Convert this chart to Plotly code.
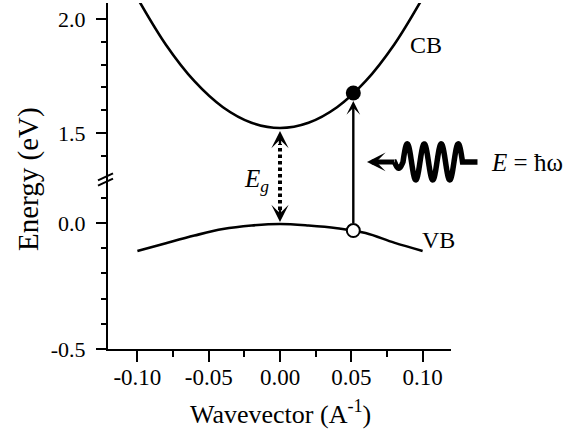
import numpy as np
import plotly.graph_objects as go

# ---------------- data ----------------
k_cb = [-0.10, -0.08, -0.06, -0.04, -0.02, 0.00, 0.02, 0.04, 0.06, 0.08, 0.10]
E_cb = [2.092, 1.887, 1.727, 1.613, 1.545, 1.522, 1.545, 1.613, 1.727, 1.887, 2.092]

k_vb = [-0.10, -0.08, -0.06, -0.04, -0.02, 0.00, 0.02, 0.04, 0.06, 0.08, 0.10]
E_vb = [-0.111, -0.080, -0.050, -0.024, -0.010, -0.004, -0.010, -0.021, -0.040, -0.078, -0.111]

k_transition = 0.0514     # vertical optical transition
E_excited = 1.675         # electron in CB (filled dot)
E_hole = -0.030           # hole in VB (open circle)
k_gap = 0.0
E_cb_min = 1.522
E_vb_max = -0.004

# photon squiggle (position on the upper energy axis)
k_photon_head = 0.061
E_photon = 1.373

x_ticks = [-0.10, -0.05, 0.00, 0.05, 0.10]
x_ticktext = ["-0.10", "-0.05", "0.00", "0.05", "0.10"]
x_minor = [-0.075, -0.025, 0.025, 0.075]
y_up_ticks = [1.5, 2.0]
y_up_text = ["1.5", "2.0"]
y_up_minor = [1.4, 1.6, 1.7, 1.8, 1.9]
y_lo_ticks = [-0.5, 0.0]
y_lo_text = ["-0.5", "0.0"]
y_lo_minor = [-0.4, -0.3, -0.2, -0.1, 0.1]

# ---------------- layout geometry ----------------
W, H = 568, 430
ML, MR, MT, MB = 108, 117, 3, 81
PW, PH = W - ML - MR, H - MT - MB
XR = [-0.1206, 0.1199]
Y_LO_DOM, Y_LO_RANGE = [0.0, 0.49], [-0.5, 0.1726]
Y_UP_DOM, Y_UP_RANGE = [0.49, 1.0], [1.296, 2.07]
FONT = "Liberation Serif"


def xp(k):
    return (k - XR[0]) / (XR[1] - XR[0])


def yp_up(E):
    return Y_UP_DOM[0] + (E - Y_UP_RANGE[0]) / (Y_UP_RANGE[1] - Y_UP_RANGE[0]) * (Y_UP_DOM[1] - Y_UP_DOM[0])


def yp_lo(E):
    return Y_LO_DOM[0] + (E - Y_LO_RANGE[0]) / (Y_LO_RANGE[1] - Y_LO_RANGE[0]) * (Y_LO_DOM[1] - Y_LO_DOM[0])


def ypx(py):
    """page pixel row -> paper fraction"""
    return (MT + PH - py) / PH


fig = go.Figure()

fig.add_trace(go.Scatter(x=k_cb, y=E_cb, mode="lines", xaxis="x", yaxis="y2",
                         line=dict(color="black", width=2.6, shape="spline"), hoverinfo="skip"))
fig.add_trace(go.Scatter(x=k_vb, y=E_vb, mode="lines", xaxis="x", yaxis="y",
                         line=dict(color="black", width=2.6, shape="spline"), hoverinfo="skip"))

shapes = []
annotations = []

# dotted band-gap double arrow
shapes.append(dict(type="line", xref="paper", yref="paper",
                   x0=xp(k_gap), x1=xp(k_gap),
                   y0=yp_lo(E_vb_max) + 14 / PH, y1=yp_up(E_cb_min) - 16 / PH,
                   line=dict(color="black", width=4, dash="3.5px,3px")))
annotations.append(dict(x=k_gap, xref="x", y=yp_up(E_cb_min) - 3 / PH, yref="paper", text="",
                        showarrow=True, arrowhead=3, arrowsize=1.2, arrowwidth=2.4,
                        arrowcolor="black", ax=0, ay=15))
annotations.append(dict(x=k_gap, xref="x", y=yp_lo(E_vb_max) + 2 / PH, yref="paper", text="",
                        showarrow=True, arrowhead=3, arrowsize=1.2, arrowwidth=2.4,
                        arrowcolor="black", ax=0, ay=-15))

# vertical excitation arrow
head_y = yp_up(E_excited) - 8 / PH
tail_y = yp_lo(E_hole) + 6 / PH
annotations.append(dict(x=k_transition, xref="x", y=head_y, yref="paper", text="",
                        showarrow=True, arrowhead=3, arrowsize=0.95, arrowwidth=2.4,
                        arrowcolor="black", ax=0, ay=(head_y - tail_y) * PH))

# photon squiggle
head_px = ML + xp(k_photon_head) * PW
yc = yp_up(E_photon)
lam, amp = 17.0, 18.0
x0 = head_px + 36.0
phi = np.linspace(-np.pi, 7 * np.pi, 400)
env = np.where(phi < 0, 0.35, 1.0)
wx = x0 + phi / (2 * np.pi) * lam
wy = -amp * env * np.sin(phi)
pts = [(wx[0] - 0.01, 0.0)] + list(zip(wx, wy)) + [(wx[-1] + 15.0, 0.0)]
path = "M " + " L ".join(f"{(px - ML) / PW:.5f},{yc - py / PH:.5f}" for px, py in pts)
shapes.append(dict(type="path", xref="paper", yref="paper", path=path,
                   line=dict(color="black", width=5.5)))
annotations.append(dict(x=k_photon_head, xref="x", y=yc, yref="paper", text="",
                        showarrow=True, arrowhead=3, arrowsize=0.62, arrowwidth=5,
                        arrowcolor="black", ax=x0 - 8.5 - head_px + 1, ay=0))

# axis break marks
by = Y_LO_DOM[1]
for off in (-2.6, 2.6):
    shapes.append(dict(type="line", xref="paper", yref="paper",
                       x0=-10 / PW, x1=5 / PW,
                       y0=by - (3.5 - off) / PH, y1=by + (3.5 + off) / PH,
                       line=dict(color="black", width=2)))

fig.add_trace(go.Scatter(x=[k_transition], y=[E_excited], mode="markers", xaxis="x", yaxis="y2",
                         marker=dict(size=15, color="black"), hoverinfo="skip"))
fig.add_trace(go.Scatter(x=[k_transition], y=[E_hole], mode="markers", xaxis="x", yaxis="y",
                         marker=dict(size=13, color="white", line=dict(color="black", width=2)),
                         hoverinfo="skip"))

# labels
annotations += [
    dict(x=0.1024, xref="x", y=1.886, yref="y2", text="CB", showarrow=False,
         xanchor="center", yanchor="middle",
         font=dict(family=FONT, size=24, color="black")),
    dict(x=0.111, xref="x", y=-0.0675, yref="y", text="VB", showarrow=False,
         xanchor="center", yanchor="middle",
         font=dict(family=FONT, size=24, color="black")),
    dict(x=(489 - ML) / PW, xref="paper", y=ypx(162), yref="paper", text="<i>E</i> = ħω",
         showarrow=False, xanchor="left", yanchor="middle",
         font=dict(family=FONT, size=25, color="black")),
    dict(x=-0.0168, xref="x", y=0.1667, yref="y", text="<i>E<sub>g</sub></i>", showarrow=False,
         xanchor="center", yanchor="middle",
         font=dict(family=FONT, size=25, color="black")),
    dict(x=(28 - ML) / PW, xref="paper", y=ypx(179), yref="paper", text="Energy (eV)",
         textangle=-90, showarrow=False, xanchor="center", yanchor="middle",
         font=dict(family=FONT, size=29, color="black")),
    dict(x=0.0, xref="x", y=ypx(413), yref="paper", text="Wavevector (A<sup>-1</sup>)",
         showarrow=False, xanchor="center", yanchor="middle",
         font=dict(family=FONT, size=26, color="black")),
]

axis_common = dict(showline=True, linecolor="black", linewidth=2, ticks="outside",
                   tickcolor="black", tickwidth=2, showgrid=False, zeroline=False)

fig.update_layout(
    width=W, height=H, margin=dict(l=ML, r=MR, t=MT, b=MB),
    paper_bgcolor="white", plot_bgcolor="white", showlegend=False,
    xaxis=dict(range=XR, anchor="y", tickmode="array", tickvals=x_ticks, ticktext=x_ticktext,
               ticklen=11, ticklabelstandoff=-5,
               tickfont=dict(family=FONT, size=23, color="black"),
               minor=dict(tickmode="array", tickvals=x_minor, ticklen=6,
                          tickwidth=2, tickcolor="black", ticks="outside"),
               **axis_common),
    yaxis=dict(domain=Y_LO_DOM, range=Y_LO_RANGE, anchor="x", tickmode="array",
               tickvals=y_lo_ticks, ticktext=y_lo_text, ticklen=10, ticklabelstandoff=6,
               tickfont=dict(family=FONT, size=22, color="black"),
               minor=dict(tickmode="array", tickvals=y_lo_minor, ticklen=5, tickwidth=2,
                          tickcolor="black", ticks="outside"), **axis_common),
    yaxis2=dict(domain=Y_UP_DOM, range=Y_UP_RANGE, anchor="x", tickmode="array",
                tickvals=y_up_ticks, ticktext=y_up_text, ticklen=10, ticklabelstandoff=6,
                tickfont=dict(family=FONT, size=22, color="black"),
                minor=dict(tickmode="array", tickvals=y_up_minor, ticklen=5, tickwidth=2,
                           tickcolor="black", ticks="outside"), **axis_common),
    shapes=shapes, annotations=annotations,
)

fig.write_html("out.html")
